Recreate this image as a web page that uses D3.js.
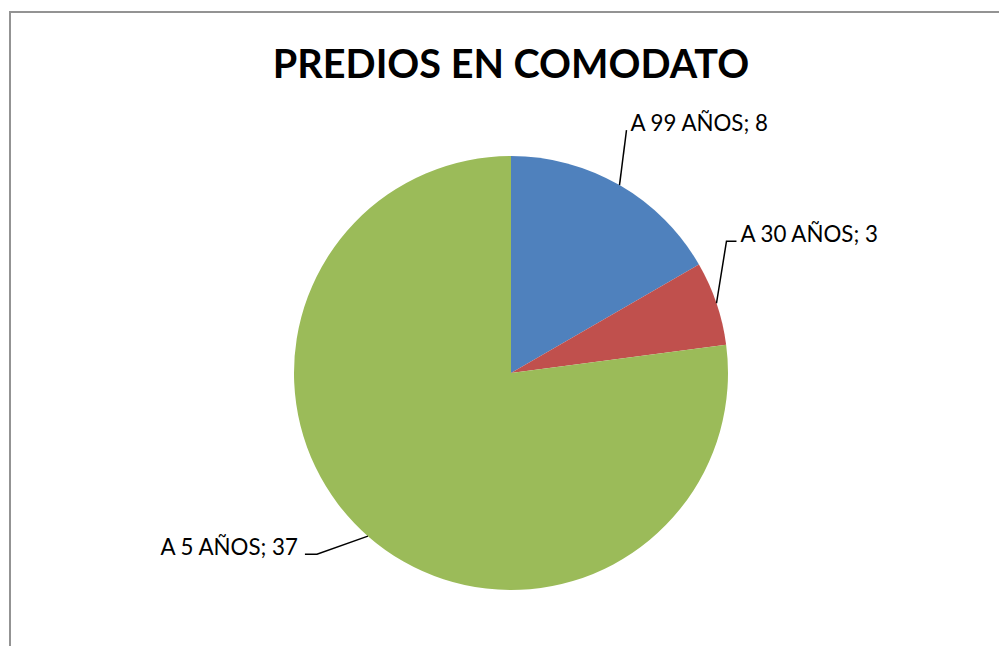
<!DOCTYPE html>
<html>
<head>
	<meta charset="utf-8">
	<title>Predios en comodato</title>
	<script src="https://d3js.org/d3.v7.min.js"></script>
	<style>
		html, body { margin: 0; padding: 0; background: #fff; overflow: hidden; }
		svg { display: block; }
	</style>
</head>
<body>
	<div class="chart"></div>

	<script type="text/javascript">
		// datos
		var categories = ['A 99 AÑOS', 'A 30 AÑOS', 'A 5 AÑOS']
		var values = [8, 3, 37]
		var colors = ['#4F81BD', '#C0504D', '#9BBB59']

		var width = 999
		var height = 646
		var cx = 511
		var cy = 373
		var radius = 217

		// desplazamiento del codo de la línea guía respecto al borde del sector, y tramo horizontal
		var labelOffsets = [[7, -55], [10, -62], [-51, 18]]
		var tailLength = [0, 10, -12]

		var svg = d3
			.select('.chart')
			.append('svg')
			.attr('width', width)
			.attr('height', height)
			.style('background-color', '#fff')

		// marco del área del gráfico (solo se ven los bordes superior e izquierdo)
		svg.append('path')
			.attr('d', `M10,${height} V12 H${width}`)
			.attr('fill', 'none')
			.attr('stroke', '#939393')
			.attr('stroke-width', 2)

		svg.append('text')
			.attr('x', cx)
			.attr('y', 78)
			.attr('text-anchor', 'middle')
			.style('font-family', 'Lato, "Open Sans", sans-serif')
			.style('font-weight', 'bold')
			.style('font-size', '39.6px')
			.attr('fill', '#000')
			.text('PREDIOS EN COMODATO')

		var dataArr = categories.map((c, i) => ({ label: c, value: values[i], color: colors[i] }))

		var pie = d3.pie()
			.value((d) => d.value)
			.sort(null)
			.startAngle(0)
			.endAngle(Math.PI * 2)

		var arc = d3.arc().innerRadius(0).outerRadius(radius)
		var edgeArc = d3.arc().innerRadius(radius).outerRadius(radius)

		var chart = svg.append('g').attr('transform', `translate(${cx}, ${cy})`)
		var pieData = pie(dataArr)

		chart.selectAll('path.slice')
			.data(pieData)
			.enter()
			.append('path')
			.attr('class', 'slice')
			.attr('fill', (d) => d.data.color)
			.attr('d', arc)

		// líneas guía y etiquetas
		var line = d3.line()
		pieData.forEach((d, i) => {
			var p0 = edgeArc.centroid(d)
			var p1 = [p0[0] + labelOffsets[i][0], p0[1] + labelOffsets[i][1]]
			var p2 = [p1[0] + tailLength[i], p1[1]]
			chart.append('path')
				.attr('d', line([p0, p1, p2]))
				.attr('fill', 'none')
				.attr('stroke', '#000')
				.attr('stroke-width', 1.5)

			var right = tailLength[i] >= 0
			chart.append('text')
				.attr('x', p2[0] + (right ? 4 : -7))
				.attr('y', p2[1] + 1)
				.attr('text-anchor', right ? 'start' : 'end')
				.style('font-family', 'Lato, "Open Sans", sans-serif')
				.style('font-size', '22.3px')
				.attr('fill', '#000')
				.text(d.data.label + '; ' + d.data.value)
		})
	</script>
</body>
</html>
